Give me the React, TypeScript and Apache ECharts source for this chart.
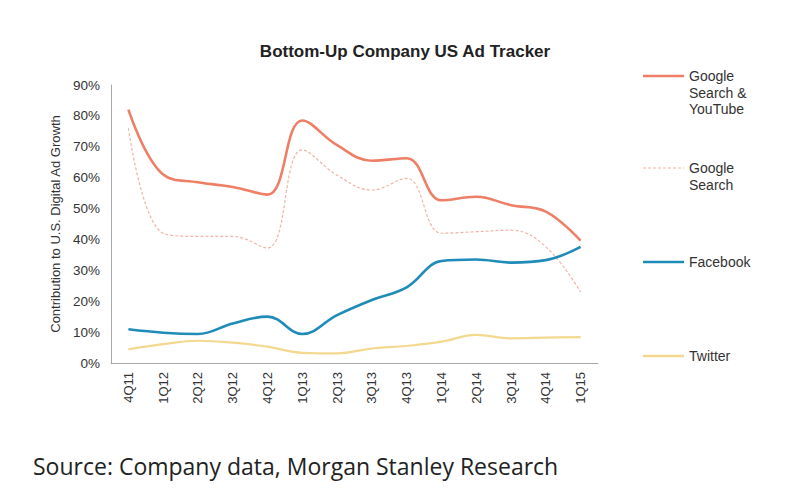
import React, { useEffect, useRef } from "react";
import * as echarts from "echarts";

const categories = ["4Q11", "1Q12", "2Q12", "3Q12", "4Q12", "1Q13", "2Q13", "3Q13", "4Q13", "1Q14", "2Q14", "3Q14", "4Q14", "1Q15"];
const googleSearchYouTube = [82, 61, 58.5, 57, 54.5, 78.5, 70.5, 65.5, 66.3, 52.7, 53.8, 51.1, 49, 39.6];
const googleSearch = [76, 42, 41, 41, 37.2, 69, 60.8, 56, 59.8, 42, 42.5, 43, 37.6, 23];
const facebook = [10.9, 9.8, 9.4, 12.8, 15, 9.4, 15.5, 20.4, 24.5, 33, 33.5, 32.5, 33.3, 37.6];
const twitter = [4.4, 6.1, 7.2, 6.6, 5.3, 3.3, 3.1, 4.7, 5.5, 6.9, 9.1, 8, 8.2, 8.4];
const yTicks = [0, 10, 20, 30, 40, 50, 60, 70, 80, 90];

const RED = "#ee7f66";
const RED_LIGHT = "#f0b4a6";
const BLUE = "#1e8bb8";
const YELLOW = "#f3d98f";
const FONT = "Liberation Sans, Arial, sans-serif";

export default function App() {
  const ref = useRef<HTMLDivElement>(null);
  useEffect(() => {
    if (!ref.current) return;
    const chart = echarts.init(ref.current, undefined, { renderer: "svg" });
    const legendItem = (y: number, color: string, dashed: boolean, label: string, textTop: number) => [
      {
        type: "line",
        shape: { x1: 643, y1: y, x2: 684, y2: y },
        style: { stroke: color, lineWidth: dashed ? 1.2 : 2.5, lineDash: dashed ? [3, 2] : undefined },
      },
      {
        type: "text",
        x: 689,
        y: textTop,
        style: { text: label, fontFamily: FONT, fontSize: 14, lineHeight: 16.5, fill: "#333", textVerticalAlign: "top" },
      },
    ];
    chart.setOption({
      animation: false,
      backgroundColor: "#fff",
      title: {
        text: "Bottom-Up Company US Ad Tracker",
        left: 400,
        textAlign: "center",
        top: 38,
        textStyle: { fontFamily: FONT, fontSize: 17, fontWeight: "bold", color: "#222" },
      },
      grid: { left: 111, right: 203, top: 85, bottom: 131, containLabel: false },
      xAxis: {
        type: "category",
        data: categories,
        boundaryGap: true,
        axisLine: { lineStyle: { color: "#a8a8a8", width: 1 } },
        axisTick: { show: false },
        axisLabel: { rotate: 90, fontFamily: FONT, fontSize: 13, color: "#333", margin: 9 },
      },
      yAxis: {
        type: "value",
        min: 0,
        max: 90,
        interval: 10,
        name: "Contribution to U.S. Digital Ad Growth",
        nameLocation: "middle",
        nameGap: 47,
        nameTextStyle: { fontFamily: FONT, fontSize: 13, color: "#333" },
        axisLine: { show: true, lineStyle: { color: "#a8a8a8", width: 1 } },
        axisTick: { show: false },
        splitLine: { show: false },
        axisLabel: {
          fontFamily: FONT,
          fontSize: 13.5,
          color: "#333",
          margin: 11,
          formatter: (v: number) => (yTicks.includes(v) ? v + "%" : ""),
        },
      },
      series: [
        {
          name: "Google Search & YouTube",
          type: "line",
          data: googleSearchYouTube,
          smooth: 0.4,
          showSymbol: false,
          lineStyle: { color: RED, width: 2.6 },
          z: 4,
        },
        {
          name: "Google Search",
          type: "line",
          data: googleSearch,
          smooth: 0.4,
          showSymbol: false,
          lineStyle: { color: RED_LIGHT, width: 1.2, type: [3, 2] },
          z: 3,
        },
        {
          name: "Facebook",
          type: "line",
          data: facebook,
          smooth: 0.4,
          showSymbol: false,
          lineStyle: { color: BLUE, width: 2.6 },
          z: 4,
        },
        {
          name: "Twitter",
          type: "line",
          data: twitter,
          smooth: 0.4,
          showSymbol: false,
          lineStyle: { color: YELLOW, width: 2.2 },
          z: 2,
        },
      ],
      graphic: [
        ...legendItem(76, RED, false, "Google\nSearch &\nYouTube", 68),
        ...legendItem(168, RED_LIGHT, true, "Google\nSearch", 160),
        ...legendItem(262, BLUE, false, "Facebook", 254),
        ...legendItem(356, YELLOW, false, "Twitter", 348),
        {
          type: "text",
          x: 33,
          y: 454,
          style: {
            text: "Source: Company data, Morgan Stanley Research",
            fontFamily: "Open Sans, Noto Sans, sans-serif",
            fontSize: 23,
            fill: "#222",
            textVerticalAlign: "top",
          },
        },
      ],
    });
    return () => chart.dispose();
  }, []);
  return <div ref={ref} style={{ position: "fixed", left: 0, top: 0, width: 801, height: 494 }} />;
}
